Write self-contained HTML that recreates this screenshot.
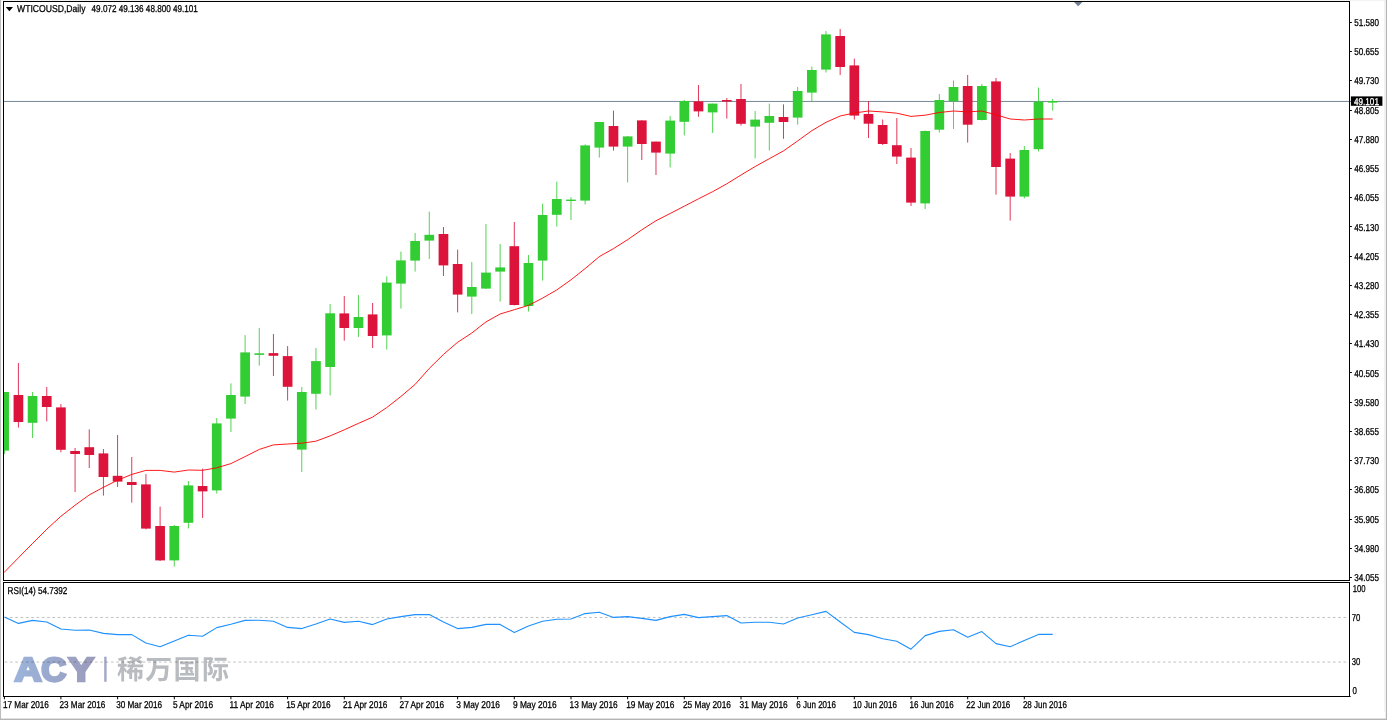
<!DOCTYPE html>
<html lang="zh"><head><meta charset="utf-8"><title>WTICOUSD,Daily</title>
<style>
html,body{margin:0;padding:0;background:#fff;}
body{width:1387px;height:720px;overflow:hidden;position:relative;}
svg{position:absolute;left:0;top:0;display:block;}
text{font-family:"Liberation Sans","DejaVu Sans",sans-serif;fill:#000;stroke:#000;stroke-width:0.28px;text-rendering:geometricPrecision;}
.cjk{font-family:"Liberation Sans","Noto Sans CJK SC","WenQuanYi Zen Hei",sans-serif;}
</style></head><body>
<svg width="1387" height="720" viewBox="0 0 1387 720">
<rect x="0" y="0" width="1387" height="720" fill="#ffffff"/>
<rect x="0" y="0" width="1.05" height="720" fill="#bdbdbd"/>
<rect x="1" y="0" width="1386" height="0.9" fill="#f2f2f2"/>
<rect x="1385.8" y="0" width="1.2" height="720" fill="#b4b4b4"/>
<rect x="1384" y="0" width="0.9" height="711.8" fill="#f1f1f1"/>
<rect x="0" y="718.6" width="1387" height="1.4" fill="#b4b4b4"/>
<g stroke="#c0c0c0" stroke-width="1" stroke-dasharray="2.657 2.656" fill="none">
<line x1="4.65" y1="617.45" x2="1349" y2="617.45"/>
<line x1="4.65" y1="662.05" x2="1349" y2="662.05"/>
</g>
<line x1="3.8" y1="101.45" x2="1351" y2="101.45" stroke="#778899" stroke-width="1"/>
<g id="wicks" stroke-width="0.85" fill="none">
<line x1="4.40" y1="392.0" x2="4.40" y2="454.0" stroke="#32CD32"/>
<line x1="18.42" y1="363.0" x2="18.42" y2="427.6" stroke="#DC143C"/>
<line x1="32.59" y1="392.0" x2="32.59" y2="438.0" stroke="#32CD32"/>
<line x1="46.75" y1="387.0" x2="46.75" y2="421.4" stroke="#DC143C"/>
<line x1="60.92" y1="404.0" x2="60.92" y2="452.4" stroke="#DC143C"/>
<line x1="75.09" y1="448.0" x2="75.09" y2="492.0" stroke="#DC143C"/>
<line x1="89.26" y1="429.4" x2="89.26" y2="468.0" stroke="#DC143C"/>
<line x1="103.43" y1="449.0" x2="103.43" y2="495.6" stroke="#DC143C"/>
<line x1="117.59" y1="435.0" x2="117.59" y2="487.0" stroke="#DC143C"/>
<line x1="131.76" y1="457.0" x2="131.76" y2="502.6" stroke="#DC143C"/>
<line x1="145.93" y1="474.0" x2="145.93" y2="529.4" stroke="#DC143C"/>
<line x1="160.10" y1="506.6" x2="160.10" y2="561.0" stroke="#DC143C"/>
<line x1="174.27" y1="525.0" x2="174.27" y2="566.6" stroke="#32CD32"/>
<line x1="188.43" y1="481.0" x2="188.43" y2="528.4" stroke="#32CD32"/>
<line x1="202.60" y1="468.6" x2="202.60" y2="518.0" stroke="#DC143C"/>
<line x1="216.77" y1="418.0" x2="216.77" y2="493.6" stroke="#32CD32"/>
<line x1="230.94" y1="383.4" x2="230.94" y2="432.0" stroke="#32CD32"/>
<line x1="245.11" y1="335.1" x2="245.11" y2="404.0" stroke="#32CD32"/>
<line x1="259.27" y1="327.9" x2="259.27" y2="365.6" stroke="#32CD32"/>
<line x1="273.44" y1="334.0" x2="273.44" y2="376.0" stroke="#DC143C"/>
<line x1="287.61" y1="346.1" x2="287.61" y2="400.6" stroke="#DC143C"/>
<line x1="301.78" y1="387.0" x2="301.78" y2="472.0" stroke="#32CD32"/>
<line x1="315.95" y1="348.1" x2="315.95" y2="409.6" stroke="#32CD32"/>
<line x1="330.11" y1="304.0" x2="330.11" y2="395.4" stroke="#32CD32"/>
<line x1="344.28" y1="296.0" x2="344.28" y2="340.6" stroke="#DC143C"/>
<line x1="358.45" y1="295.0" x2="358.45" y2="337.0" stroke="#32CD32"/>
<line x1="372.62" y1="303.0" x2="372.62" y2="348.0" stroke="#DC143C"/>
<line x1="386.79" y1="276.4" x2="386.79" y2="349.6" stroke="#32CD32"/>
<line x1="400.95" y1="251.6" x2="400.95" y2="308.6" stroke="#32CD32"/>
<line x1="415.12" y1="233.0" x2="415.12" y2="271.6" stroke="#32CD32"/>
<line x1="429.29" y1="211.6" x2="429.29" y2="259.0" stroke="#32CD32"/>
<line x1="443.46" y1="227.0" x2="443.46" y2="276.0" stroke="#DC143C"/>
<line x1="457.63" y1="249.6" x2="457.63" y2="312.4" stroke="#DC143C"/>
<line x1="471.79" y1="262.0" x2="471.79" y2="314.0" stroke="#32CD32"/>
<line x1="485.96" y1="224.0" x2="485.96" y2="289.0" stroke="#32CD32"/>
<line x1="500.13" y1="244.0" x2="500.13" y2="301.6" stroke="#32CD32"/>
<line x1="514.30" y1="222.0" x2="514.30" y2="305.4" stroke="#DC143C"/>
<line x1="528.47" y1="255.0" x2="528.47" y2="311.6" stroke="#32CD32"/>
<line x1="542.63" y1="203.6" x2="542.63" y2="280.6" stroke="#32CD32"/>
<line x1="556.80" y1="181.6" x2="556.80" y2="226.6" stroke="#32CD32"/>
<line x1="570.97" y1="197.2" x2="570.97" y2="220.0" stroke="#32CD32"/>
<line x1="585.14" y1="144.4" x2="585.14" y2="204.4" stroke="#32CD32"/>
<line x1="599.31" y1="122.0" x2="599.31" y2="157.6" stroke="#32CD32"/>
<line x1="613.47" y1="110.6" x2="613.47" y2="150.6" stroke="#DC143C"/>
<line x1="627.64" y1="136.0" x2="627.64" y2="182.4" stroke="#32CD32"/>
<line x1="641.81" y1="120.4" x2="641.81" y2="160.0" stroke="#DC143C"/>
<line x1="655.98" y1="141.6" x2="655.98" y2="175.0" stroke="#DC143C"/>
<line x1="670.15" y1="116.0" x2="670.15" y2="167.4" stroke="#32CD32"/>
<line x1="684.31" y1="100.0" x2="684.31" y2="135.4" stroke="#32CD32"/>
<line x1="698.48" y1="85.0" x2="698.48" y2="116.8" stroke="#DC143C"/>
<line x1="712.65" y1="103.6" x2="712.65" y2="133.0" stroke="#32CD32"/>
<line x1="726.82" y1="98.0" x2="726.82" y2="118.6" stroke="#DC143C"/>
<line x1="740.99" y1="84.0" x2="740.99" y2="125.6" stroke="#DC143C"/>
<line x1="755.15" y1="111.0" x2="755.15" y2="158.4" stroke="#32CD32"/>
<line x1="769.32" y1="103.6" x2="769.32" y2="150.6" stroke="#32CD32"/>
<line x1="783.49" y1="104.4" x2="783.49" y2="138.8" stroke="#DC143C"/>
<line x1="797.66" y1="87.0" x2="797.66" y2="124.6" stroke="#32CD32"/>
<line x1="811.83" y1="66.6" x2="811.83" y2="101.4" stroke="#32CD32"/>
<line x1="825.99" y1="31.0" x2="825.99" y2="72.6" stroke="#32CD32"/>
<line x1="840.16" y1="29.0" x2="840.16" y2="75.0" stroke="#DC143C"/>
<line x1="854.33" y1="58.6" x2="854.33" y2="119.6" stroke="#DC143C"/>
<line x1="868.50" y1="101.0" x2="868.50" y2="138.0" stroke="#DC143C"/>
<line x1="882.67" y1="119.5" x2="882.67" y2="145.0" stroke="#DC143C"/>
<line x1="896.83" y1="118.0" x2="896.83" y2="164.0" stroke="#DC143C"/>
<line x1="911.00" y1="148.0" x2="911.00" y2="206.0" stroke="#DC143C"/>
<line x1="925.17" y1="130.5" x2="925.17" y2="209.0" stroke="#32CD32"/>
<line x1="939.34" y1="94.0" x2="939.34" y2="132.5" stroke="#32CD32"/>
<line x1="953.51" y1="80.4" x2="953.51" y2="129.0" stroke="#32CD32"/>
<line x1="967.67" y1="75.0" x2="967.67" y2="142.6" stroke="#DC143C"/>
<line x1="981.84" y1="84.0" x2="981.84" y2="120.4" stroke="#32CD32"/>
<line x1="996.01" y1="78.0" x2="996.01" y2="194.6" stroke="#DC143C"/>
<line x1="1010.18" y1="153.0" x2="1010.18" y2="220.6" stroke="#DC143C"/>
<line x1="1024.35" y1="146.0" x2="1024.35" y2="198.4" stroke="#32CD32"/>
<line x1="1038.51" y1="87.6" x2="1038.51" y2="151.5" stroke="#32CD32"/>
<line x1="1052.68" y1="99.0" x2="1052.68" y2="110.6" stroke="#32CD32"/>
</g>
<g id="bodies" stroke="none">
<rect x="3.80" y="392.0" width="5.15" height="58.6" fill="#32CD32"/>
<rect x="13.57" y="395.0" width="9.70" height="27.0" fill="#DC143C"/>
<rect x="27.74" y="396.0" width="9.70" height="26.8" fill="#32CD32"/>
<rect x="41.90" y="396.0" width="9.70" height="11.0" fill="#DC143C"/>
<rect x="56.07" y="407.4" width="9.70" height="42.4" fill="#DC143C"/>
<rect x="70.24" y="451.0" width="9.70" height="3.0" fill="#DC143C"/>
<rect x="84.41" y="447.2" width="9.70" height="7.8" fill="#DC143C"/>
<rect x="98.58" y="453.4" width="9.70" height="23.6" fill="#DC143C"/>
<rect x="112.74" y="475.8" width="9.70" height="5.8" fill="#DC143C"/>
<rect x="126.91" y="482.0" width="9.70" height="3.0" fill="#DC143C"/>
<rect x="141.08" y="484.4" width="9.70" height="44.2" fill="#DC143C"/>
<rect x="155.25" y="526.0" width="9.70" height="34.4" fill="#DC143C"/>
<rect x="169.42" y="526.0" width="9.70" height="34.4" fill="#32CD32"/>
<rect x="183.58" y="485.4" width="9.70" height="37.4" fill="#32CD32"/>
<rect x="197.75" y="486.0" width="9.70" height="5.4" fill="#DC143C"/>
<rect x="211.92" y="423.4" width="9.70" height="67.0" fill="#32CD32"/>
<rect x="226.09" y="395.0" width="9.70" height="23.6" fill="#32CD32"/>
<rect x="240.26" y="352.4" width="9.70" height="44.2" fill="#32CD32"/>
<rect x="254.42" y="353.3" width="9.70" height="1.6" fill="#32CD32"/>
<rect x="268.59" y="353.1" width="9.70" height="2.7" fill="#DC143C"/>
<rect x="282.76" y="356.1" width="9.70" height="30.7" fill="#DC143C"/>
<rect x="296.93" y="392.0" width="9.70" height="57.6" fill="#32CD32"/>
<rect x="311.10" y="361.1" width="9.70" height="32.7" fill="#32CD32"/>
<rect x="325.26" y="313.3" width="9.70" height="53.7" fill="#32CD32"/>
<rect x="339.43" y="313.4" width="9.70" height="14.6" fill="#DC143C"/>
<rect x="353.60" y="317.0" width="9.70" height="11.0" fill="#32CD32"/>
<rect x="367.77" y="314.4" width="9.70" height="21.6" fill="#DC143C"/>
<rect x="381.94" y="282.6" width="9.70" height="52.8" fill="#32CD32"/>
<rect x="396.10" y="260.4" width="9.70" height="23.2" fill="#32CD32"/>
<rect x="410.27" y="241.0" width="9.70" height="19.6" fill="#32CD32"/>
<rect x="424.44" y="234.8" width="9.70" height="5.8" fill="#32CD32"/>
<rect x="438.61" y="234.0" width="9.70" height="31.4" fill="#DC143C"/>
<rect x="452.78" y="264.0" width="9.70" height="30.6" fill="#DC143C"/>
<rect x="466.94" y="287.0" width="9.70" height="9.6" fill="#32CD32"/>
<rect x="481.11" y="272.6" width="9.70" height="16.0" fill="#32CD32"/>
<rect x="495.28" y="267.4" width="9.70" height="4.2" fill="#32CD32"/>
<rect x="509.45" y="246.2" width="9.70" height="58.8" fill="#DC143C"/>
<rect x="523.62" y="263.0" width="9.70" height="43.0" fill="#32CD32"/>
<rect x="537.78" y="215.0" width="9.70" height="45.6" fill="#32CD32"/>
<rect x="551.95" y="199.0" width="9.70" height="15.8" fill="#32CD32"/>
<rect x="566.12" y="199.6" width="9.70" height="1.4" fill="#32CD32"/>
<rect x="580.29" y="145.4" width="9.70" height="55.2" fill="#32CD32"/>
<rect x="594.46" y="122.0" width="9.70" height="25.6" fill="#32CD32"/>
<rect x="608.62" y="126.0" width="9.70" height="20.6" fill="#DC143C"/>
<rect x="622.79" y="136.4" width="9.70" height="10.2" fill="#32CD32"/>
<rect x="636.96" y="120.4" width="9.70" height="23.6" fill="#DC143C"/>
<rect x="651.13" y="141.6" width="9.70" height="11.0" fill="#DC143C"/>
<rect x="665.30" y="120.6" width="9.70" height="33.0" fill="#32CD32"/>
<rect x="679.46" y="101.0" width="9.70" height="20.8" fill="#32CD32"/>
<rect x="693.63" y="101.4" width="9.70" height="10.0" fill="#DC143C"/>
<rect x="707.80" y="103.6" width="9.70" height="8.8" fill="#32CD32"/>
<rect x="721.97" y="100.0" width="9.70" height="1.6" fill="#DC143C"/>
<rect x="736.14" y="99.0" width="9.70" height="24.8" fill="#DC143C"/>
<rect x="750.30" y="119.6" width="9.70" height="7.0" fill="#32CD32"/>
<rect x="764.47" y="116.0" width="9.70" height="6.8" fill="#32CD32"/>
<rect x="778.64" y="117.0" width="9.70" height="5.0" fill="#DC143C"/>
<rect x="792.81" y="91.0" width="9.70" height="26.6" fill="#32CD32"/>
<rect x="806.98" y="70.0" width="9.70" height="22.6" fill="#32CD32"/>
<rect x="821.14" y="34.4" width="9.70" height="35.2" fill="#32CD32"/>
<rect x="835.31" y="36.0" width="9.70" height="31.0" fill="#DC143C"/>
<rect x="849.48" y="65.4" width="9.70" height="50.2" fill="#DC143C"/>
<rect x="863.65" y="114.0" width="9.70" height="9.7" fill="#DC143C"/>
<rect x="877.82" y="125.0" width="9.70" height="19.0" fill="#DC143C"/>
<rect x="891.98" y="145.2" width="9.70" height="11.4" fill="#DC143C"/>
<rect x="906.15" y="157.6" width="9.70" height="45.0" fill="#DC143C"/>
<rect x="920.32" y="131.0" width="9.70" height="72.4" fill="#32CD32"/>
<rect x="934.49" y="100.0" width="9.70" height="29.7" fill="#32CD32"/>
<rect x="948.66" y="87.0" width="9.70" height="14.4" fill="#32CD32"/>
<rect x="962.82" y="86.0" width="9.70" height="38.7" fill="#DC143C"/>
<rect x="976.99" y="86.0" width="9.70" height="34.0" fill="#32CD32"/>
<rect x="991.16" y="81.4" width="9.70" height="85.6" fill="#DC143C"/>
<rect x="1005.33" y="158.6" width="9.70" height="38.0" fill="#DC143C"/>
<rect x="1019.50" y="150.0" width="9.70" height="46.6" fill="#32CD32"/>
<rect x="1033.66" y="101.6" width="9.70" height="47.6" fill="#32CD32"/>
<rect x="1047.83" y="101.0" width="9.70" height="1.6" fill="#32CD32"/>
</g>
<polyline points="4.0,572.6 18.4,557.8 32.6,543.4 46.8,529.2 60.9,516.3 75.1,505.2 89.3,494.9 103.4,487.3 117.6,480.2 131.8,474.4 145.9,470.4 160.1,470.4 174.3,472.1 188.4,470.0 202.6,470.3 216.8,467.8 230.9,463.6 245.1,456.6 259.3,449.4 273.4,444.9 287.6,444.0 301.8,443.2 315.9,441.2 330.1,435.9 344.3,429.8 358.4,423.4 372.6,417.1 386.8,407.5 401.0,396.4 415.1,384.4 429.3,368.4 443.5,354.4 457.6,342.3 471.8,333.0 486.0,321.9 500.1,314.0 514.3,309.7 528.5,305.4 542.6,298.1 556.8,289.9 571.0,279.8 585.1,268.6 599.3,256.6 613.5,248.6 627.6,239.7 641.8,229.8 656.0,220.7 670.1,213.5 684.3,206.2 698.5,198.8 712.6,191.7 726.8,183.8 741.0,175.0 755.2,166.5 769.3,158.7 783.5,150.9 797.7,140.9 811.8,130.7 826.0,122.3 840.2,116.0 854.3,113.0 868.5,111.0 882.7,111.9 896.8,113.2 911.0,116.4 925.2,115.2 939.3,112.5 953.5,111.0 967.7,111.9 981.8,111.0 996.0,114.8 1010.2,119.0 1024.3,120.0 1038.5,119.0 1052.7,119.0" fill="none" stroke="#ff0000" stroke-width="0.9" stroke-linejoin="round"/>
<polyline points="4.4,617.0 18.4,623.4 32.6,620.4 46.8,622.0 60.9,629.0 75.1,630.2 89.3,630.0 103.4,633.4 117.6,634.6 131.8,634.6 145.9,643.0 160.1,646.8 174.3,641.0 188.4,635.2 202.6,636.2 216.8,627.6 230.9,624.2 245.1,620.4 259.3,620.2 273.4,621.2 287.6,627.4 301.8,628.6 315.9,624.0 330.1,619.0 344.3,622.4 358.4,621.2 372.6,624.6 386.8,619.0 401.0,616.6 415.1,614.6 429.3,614.6 443.5,622.0 457.6,628.6 471.8,627.4 486.0,624.4 500.1,624.4 514.3,632.6 528.5,626.0 542.6,621.3 556.8,619.2 571.0,619.0 585.1,613.6 599.3,612.2 613.5,617.4 627.6,616.6 641.8,618.4 656.0,620.4 670.1,616.6 684.3,614.4 698.5,617.6 712.6,616.6 726.8,615.6 741.0,623.0 755.2,622.2 769.3,622.2 783.5,624.0 797.7,618.0 811.8,614.8 826.0,611.4 840.2,622.0 854.3,632.4 868.5,634.6 882.7,638.8 896.8,641.2 911.0,649.2 925.2,635.6 939.3,631.4 953.5,629.8 967.7,637.2 981.8,631.6 996.0,643.6 1010.2,646.8 1024.3,640.4 1038.5,634.4 1052.7,634.4" fill="none" stroke="#1E90FF" stroke-width="1.1" stroke-linejoin="round"/>
<g stroke="#000" stroke-width="1" fill="none">
<line x1="3.5" y1="1" x2="3.5" y2="581"/>
<line x1="3.5" y1="582" x2="3.5" y2="697"/>
<line x1="3" y1="1.5" x2="1350" y2="1.5"/>
<line x1="1349.5" y1="1" x2="1349.5" y2="581"/>
<line x1="1349.5" y1="582" x2="1349.5" y2="697"/>
<line x1="3" y1="580.5" x2="1350" y2="580.5"/>
<line x1="3" y1="582.5" x2="1350" y2="582.5"/>
<line x1="3" y1="696.5" x2="1350.6" y2="696.5"/>
</g>
<g stroke="#000" stroke-width="1">
<line x1="1350" y1="22.50" x2="1351.9" y2="22.50"/>
<line x1="1350" y1="51.50" x2="1351.9" y2="51.50"/>
<line x1="1350" y1="80.50" x2="1351.9" y2="80.50"/>
<line x1="1350" y1="110.50" x2="1351.9" y2="110.50"/>
<line x1="1350" y1="139.50" x2="1351.9" y2="139.50"/>
<line x1="1350" y1="168.50" x2="1351.9" y2="168.50"/>
<line x1="1350" y1="197.50" x2="1351.9" y2="197.50"/>
<line x1="1350" y1="226.50" x2="1351.9" y2="226.50"/>
<line x1="1350" y1="256.50" x2="1351.9" y2="256.50"/>
<line x1="1350" y1="285.50" x2="1351.9" y2="285.50"/>
<line x1="1350" y1="314.50" x2="1351.9" y2="314.50"/>
<line x1="1350" y1="343.50" x2="1351.9" y2="343.50"/>
<line x1="1350" y1="372.50" x2="1351.9" y2="372.50"/>
<line x1="1350" y1="402.50" x2="1351.9" y2="402.50"/>
<line x1="1350" y1="431.50" x2="1351.9" y2="431.50"/>
<line x1="1350" y1="460.50" x2="1351.9" y2="460.50"/>
<line x1="1350" y1="489.50" x2="1351.9" y2="489.50"/>
<line x1="1350" y1="519.50" x2="1351.9" y2="519.50"/>
<line x1="1350" y1="548.50" x2="1351.9" y2="548.50"/>
<line x1="1350" y1="577.50" x2="1351.9" y2="577.50"/>
<line x1="4.4" y1="697" x2="4.4" y2="699.3"/>
<line x1="60.9" y1="697" x2="60.9" y2="699.3"/>
<line x1="117.6" y1="697" x2="117.6" y2="699.3"/>
<line x1="174.3" y1="697" x2="174.3" y2="699.3"/>
<line x1="230.9" y1="697" x2="230.9" y2="699.3"/>
<line x1="287.6" y1="697" x2="287.6" y2="699.3"/>
<line x1="344.3" y1="697" x2="344.3" y2="699.3"/>
<line x1="401.0" y1="697" x2="401.0" y2="699.3"/>
<line x1="457.6" y1="697" x2="457.6" y2="699.3"/>
<line x1="514.3" y1="697" x2="514.3" y2="699.3"/>
<line x1="571.0" y1="697" x2="571.0" y2="699.3"/>
<line x1="627.6" y1="697" x2="627.6" y2="699.3"/>
<line x1="684.3" y1="697" x2="684.3" y2="699.3"/>
<line x1="741.0" y1="697" x2="741.0" y2="699.3"/>
<line x1="797.7" y1="697" x2="797.7" y2="699.3"/>
<line x1="854.3" y1="697" x2="854.3" y2="699.3"/>
<line x1="911.0" y1="697" x2="911.0" y2="699.3"/>
<line x1="967.7" y1="697" x2="967.7" y2="699.3"/>
<line x1="1024.3" y1="697" x2="1024.3" y2="699.3"/>
</g>
<polygon points="1074,1.9 1082.4,1.9 1078.2,6.2" fill="#708090"/>
<polygon points="5.8,7 13,7 9.4,11.2" fill="#000"/>
<text x="17.0" y="11.9" font-size="10.0" textLength="68.5" lengthAdjust="spacingAndGlyphs">WTICOUSD,Daily</text>
<text x="91.6" y="11.9" font-size="10.0" textLength="106.3" lengthAdjust="spacingAndGlyphs">49.072 49.136 48.800 49.101</text>
<text x="7.6" y="593.5" font-size="10.0" textLength="59.8" lengthAdjust="spacingAndGlyphs">RSI(14) 54.7392</text>
<text x="3.0" y="707.9" font-size="10.0" textLength="45.9" lengthAdjust="spacingAndGlyphs">17 Mar 2016</text>
<text x="59.5" y="707.9" font-size="10.0" textLength="45.9" lengthAdjust="spacingAndGlyphs">23 Mar 2016</text>
<text x="116.2" y="707.9" font-size="10.0" textLength="45.9" lengthAdjust="spacingAndGlyphs">30 Mar 2016</text>
<text x="172.9" y="707.9" font-size="10.0" textLength="40.2" lengthAdjust="spacingAndGlyphs">5 Apr 2016</text>
<text x="229.5" y="707.9" font-size="10.0" textLength="44.5" lengthAdjust="spacingAndGlyphs">11 Apr 2016</text>
<text x="286.2" y="707.9" font-size="10.0" textLength="44.5" lengthAdjust="spacingAndGlyphs">15 Apr 2016</text>
<text x="342.9" y="707.9" font-size="10.0" textLength="44.5" lengthAdjust="spacingAndGlyphs">21 Apr 2016</text>
<text x="399.6" y="707.9" font-size="10.0" textLength="44.5" lengthAdjust="spacingAndGlyphs">27 Apr 2016</text>
<text x="456.2" y="707.9" font-size="10.0" textLength="43.8" lengthAdjust="spacingAndGlyphs">3 May 2016</text>
<text x="512.9" y="707.9" font-size="10.0" textLength="43.8" lengthAdjust="spacingAndGlyphs">9 May 2016</text>
<text x="569.6" y="707.9" font-size="10.0" textLength="48.1" lengthAdjust="spacingAndGlyphs">13 May 2016</text>
<text x="626.2" y="707.9" font-size="10.0" textLength="48.1" lengthAdjust="spacingAndGlyphs">19 May 2016</text>
<text x="682.9" y="707.9" font-size="10.0" textLength="48.1" lengthAdjust="spacingAndGlyphs">25 May 2016</text>
<text x="739.6" y="707.9" font-size="10.0" textLength="48.1" lengthAdjust="spacingAndGlyphs">31 May 2016</text>
<text x="796.3" y="707.9" font-size="10.0" textLength="39.7" lengthAdjust="spacingAndGlyphs">6 Jun 2016</text>
<text x="852.9" y="707.9" font-size="10.0" textLength="44.0" lengthAdjust="spacingAndGlyphs">10 Jun 2016</text>
<text x="909.6" y="707.9" font-size="10.0" textLength="44.0" lengthAdjust="spacingAndGlyphs">16 Jun 2016</text>
<text x="966.3" y="707.9" font-size="10.0" textLength="44.0" lengthAdjust="spacingAndGlyphs">22 Jun 2016</text>
<text x="1022.9" y="707.9" font-size="10.0" textLength="44.0" lengthAdjust="spacingAndGlyphs">28 Jun 2016</text>
<text x="1354.2" y="26.0" font-size="10.0" textLength="24.8" lengthAdjust="spacingAndGlyphs">51.580</text>
<text x="1354.2" y="55.2" font-size="10.0" textLength="24.8" lengthAdjust="spacingAndGlyphs">50.655</text>
<text x="1354.2" y="84.4" font-size="10.0" textLength="24.8" lengthAdjust="spacingAndGlyphs">49.730</text>
<text x="1354.2" y="113.6" font-size="10.0" textLength="24.8" lengthAdjust="spacingAndGlyphs">48.805</text>
<text x="1354.2" y="142.8" font-size="10.0" textLength="24.8" lengthAdjust="spacingAndGlyphs">47.880</text>
<text x="1354.2" y="172.1" font-size="10.0" textLength="24.8" lengthAdjust="spacingAndGlyphs">46.955</text>
<text x="1354.2" y="201.3" font-size="10.0" textLength="24.8" lengthAdjust="spacingAndGlyphs">46.055</text>
<text x="1354.2" y="230.5" font-size="10.0" textLength="24.8" lengthAdjust="spacingAndGlyphs">45.130</text>
<text x="1354.2" y="259.7" font-size="10.0" textLength="24.8" lengthAdjust="spacingAndGlyphs">44.205</text>
<text x="1354.2" y="288.9" font-size="10.0" textLength="24.8" lengthAdjust="spacingAndGlyphs">43.280</text>
<text x="1354.2" y="318.1" font-size="10.0" textLength="24.8" lengthAdjust="spacingAndGlyphs">42.355</text>
<text x="1354.2" y="347.3" font-size="10.0" textLength="24.8" lengthAdjust="spacingAndGlyphs">41.430</text>
<text x="1354.2" y="376.5" font-size="10.0" textLength="24.8" lengthAdjust="spacingAndGlyphs">40.505</text>
<text x="1354.2" y="405.7" font-size="10.0" textLength="24.8" lengthAdjust="spacingAndGlyphs">39.580</text>
<text x="1354.2" y="434.9" font-size="10.0" textLength="24.8" lengthAdjust="spacingAndGlyphs">38.655</text>
<text x="1354.2" y="464.2" font-size="10.0" textLength="24.8" lengthAdjust="spacingAndGlyphs">37.730</text>
<text x="1354.2" y="493.4" font-size="10.0" textLength="24.8" lengthAdjust="spacingAndGlyphs">36.805</text>
<text x="1354.2" y="522.6" font-size="10.0" textLength="24.8" lengthAdjust="spacingAndGlyphs">35.905</text>
<text x="1354.2" y="551.8" font-size="10.0" textLength="24.8" lengthAdjust="spacingAndGlyphs">34.980</text>
<text x="1354.2" y="581.0" font-size="10.0" textLength="24.8" lengthAdjust="spacingAndGlyphs">34.055</text>
<rect x="1350.9" y="96.4" width="31.5" height="9.4" fill="#000"/>
<text x="1354.1" y="104.7" font-size="10.0" textLength="24.8" lengthAdjust="spacingAndGlyphs" style="fill:#fff;stroke:#fff">49.101</text>
<text x="1352.8" y="592.0" font-size="10.0" textLength="12.8" lengthAdjust="spacingAndGlyphs">100</text>
<text x="1351.8" y="620.9" font-size="10.0" textLength="8.6" lengthAdjust="spacingAndGlyphs">70</text>
<text x="1351.8" y="665.2" font-size="10.0" textLength="8.6" lengthAdjust="spacingAndGlyphs">30</text>
<text x="1352.4" y="693.9" font-size="10.0" textLength="4.4" lengthAdjust="spacingAndGlyphs">0</text>
<defs><linearGradient id="lg" gradientUnits="userSpaceOnUse" x1="13" y1="0" x2="96" y2="0"><stop offset="0" stop-color="#9cb4dc"/><stop offset="0.5" stop-color="#9aa8cc"/><stop offset="1" stop-color="#9c9aba"/></linearGradient></defs>
<g style="mix-blend-mode:multiply">
<g font-weight="bold" font-size="33.2" style="fill:url(#lg);stroke:url(#lg);stroke-width:2.6px;stroke-linejoin:miter">
<text x="14.5" y="680.5" textLength="27.2" lengthAdjust="spacingAndGlyphs" style="fill:url(#lg);stroke:url(#lg);stroke-width:2.6px">A</text>
<text x="41.3" y="680.5" textLength="25.0" lengthAdjust="spacingAndGlyphs" style="fill:url(#lg);stroke:url(#lg);stroke-width:2.6px">C</text>
<text x="68.6" y="680.5" textLength="25.4" lengthAdjust="spacingAndGlyphs" style="fill:url(#lg);stroke:url(#lg);stroke-width:2.6px">Y</text>
</g>
<rect x="104.2" y="656.7" width="2.4" height="25.1" fill="#a3a7c6"/>
<text class="cjk" x="117 145.3 173.6 201.9" y="679.3" font-size="27" font-weight="bold" style="fill:#b8bbbf;stroke:none">稀万国际</text>
</g>
</svg>
</body></html>
